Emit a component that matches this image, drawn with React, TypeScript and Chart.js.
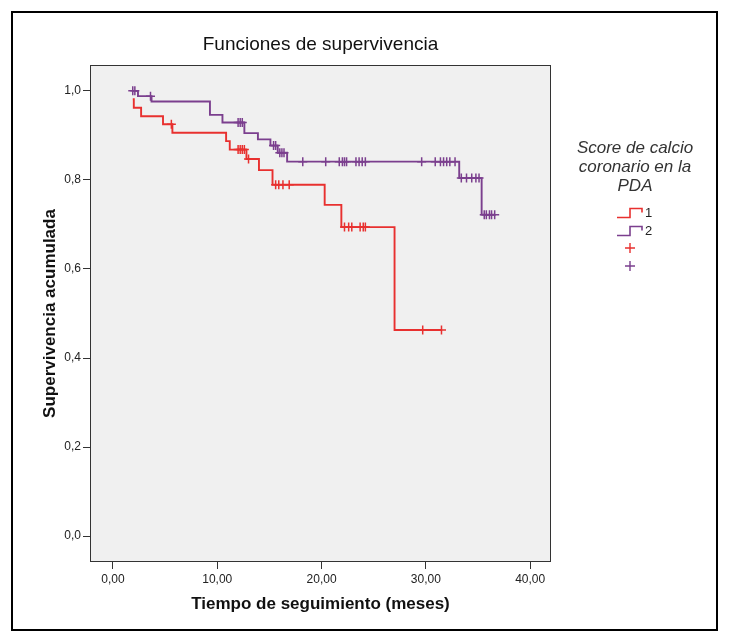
import { useEffect, useRef } from "react";
import { Chart, registerables } from "chart.js";

Chart.register(...registerables);

const chartTitle = "Funciones de supervivencia";
const xAxisTitle = "Tiempo de seguimiento (meses)";
const yAxisTitle = "Supervivencia acumulada";
const legendTitleLines = ["Score de calcio", "coronario en la", "PDA"];
const groupLabels = ["1", "2"];
const xTickValues = [0, 10, 20, 30, 40];
const yTickValues = [0, 0.2, 0.4, 0.6, 0.8, 1.0];

// Group 1 (red): event times and survival after each step
const group1Times = [1.9, 2.0, 2.7, 4.8, 5.7, 10.85, 11.2, 12.8, 14.0, 15.3, 20.3, 21.9, 27.0, 31.5];
const group1Survival = [0.981, 0.962, 0.943, 0.925, 0.906, 0.887, 0.868, 0.847, 0.822, 0.789, 0.744, 0.694, 0.463, 0.463];
const group1Censored = [5.6, 12.0, 12.2, 12.4, 12.6, 13.0, 15.6, 15.9, 16.3, 16.9, 22.2, 22.6, 22.9, 23.7, 24.0, 24.2, 29.7, 31.5];

// Group 2 (purple)
const group2Times = [1.9, 2.4, 3.7, 9.3, 10.5, 12.6, 13.9, 15.1, 15.8, 16.7, 33.2, 35.35, 36.6];
const group2Survival = [1.0, 0.988, 0.976, 0.946, 0.929, 0.905, 0.891, 0.877, 0.861, 0.841, 0.804, 0.722, 0.722];
const group2Censored = [1.9, 2.1, 3.6, 12.0, 12.2, 12.4, 15.4, 15.6, 16.0, 16.2, 16.4, 18.2, 20.4, 21.7, 22.0, 22.2, 22.4, 23.3, 23.6, 23.9, 24.2, 29.6, 30.9, 31.4, 31.7, 32.0, 32.3, 32.8, 33.4, 33.9, 34.4, 34.8, 35.1, 35.6, 35.8, 36.1, 36.3, 36.6];

const RED = "#e8302f";
const PURPLE = "#7b3f8e";
const FONT = "'Liberation Sans', Arial, sans-serif";

function survivalAt(times: number[], surv: number[], t: number) {
  let s = surv[0];
  for (let i = 0; i < times.length; i++) {
    if (times[i] <= t) s = surv[i];
  }
  return s;
}

const decorPlugin = {
  id: "decor",
  beforeDraw(chart: any) {
    const { ctx, chartArea: a, width, height } = chart;
    ctx.save();
    ctx.fillStyle = "#ffffff";
    ctx.fillRect(0, 0, width, height);
    ctx.fillStyle = "#f0f0f0";
    ctx.fillRect(a.left, a.top, a.right - a.left, a.bottom - a.top);
    ctx.restore();
  },
  afterDraw(chart: any) {
    const { ctx, chartArea: a } = chart;
    ctx.save();
    // plot box
    ctx.strokeStyle = "#333";
    ctx.lineWidth = 1;
    ctx.strokeRect(a.left + 0.5, a.top + 0.5, a.right - a.left - 1, a.bottom - a.top - 1);
    // outer frame
    ctx.strokeStyle = "#000";
    ctx.lineWidth = 2;
    ctx.strokeRect(4, 4, 705, 618);
    // title
    ctx.fillStyle = "#111";
    ctx.font = `19px ${FONT}`;
    ctx.textAlign = "center";
    ctx.textBaseline = "middle";
    ctx.fillText(chartTitle, (a.left + a.right) / 2, 37);
    // legend title
    ctx.fillStyle = "#333";
    ctx.font = `italic 17px ${FONT}`;
    legendTitleLines.forEach((line, i) => {
      ctx.fillText(line, 627, 140 + i * 19);
    });
    // legend step icons
    const colors = [RED, PURPLE];
    groupLabels.forEach((lab, i) => {
      const yc = 205 + i * 18;
      ctx.strokeStyle = colors[i];
      ctx.lineWidth = 1.6;
      ctx.beginPath();
      ctx.moveTo(609, yc + 4.5);
      ctx.lineTo(622, yc + 4.5);
      ctx.lineTo(622, yc - 4.5);
      ctx.lineTo(634, yc - 4.5);
      ctx.lineTo(634, yc - 0.5);
      ctx.stroke();
      ctx.fillStyle = "#222";
      ctx.font = `13px ${FONT}`;
      ctx.textAlign = "left";
      ctx.fillText(lab, 637, yc);
      ctx.textAlign = "center";
    });
    // legend censor crosses
    colors.forEach((c, i) => {
      const yc = 240 + i * 18;
      ctx.strokeStyle = c;
      ctx.lineWidth = 1.4;
      ctx.beginPath();
      ctx.moveTo(622, yc - 5);
      ctx.lineTo(622, yc + 5);
      ctx.moveTo(617, yc);
      ctx.lineTo(627, yc);
      ctx.stroke();
    });
    ctx.restore();
  },
};

export default function App() {
  const ref = useRef<HTMLCanvasElement | null>(null);
  useEffect(() => {
    if (!ref.current) return;
    const line1 = group1Times.map((t, i) => ({ x: t, y: group1Survival[i] }));
    const line2 = group2Times.map((t, i) => ({ x: t, y: group2Survival[i] }));
    const cens1 = group1Censored.map((t) => ({ x: t, y: survivalAt(group1Times, group1Survival, t) }));
    const cens2 = group2Censored.map((t) => ({ x: t, y: survivalAt(group2Times, group2Survival, t) }));
    const tickFont = { family: FONT, size: 12 };
    const chart = new Chart(ref.current, {
      type: "line",
      data: {
        datasets: [
          { label: groupLabels[0], data: line1, borderColor: RED, borderWidth: 1.9, stepped: true, pointRadius: 0, fill: false },
          { label: groupLabels[1], data: line2, borderColor: PURPLE, borderWidth: 1.9, stepped: true, pointRadius: 0, fill: false },
          { label: groupLabels[0] + " censurado", data: cens1, showLine: false, pointStyle: "cross", pointRadius: 4.5, borderColor: RED, backgroundColor: RED, borderWidth: 1.5 },
          { label: groupLabels[1] + " censurado", data: cens2, showLine: false, pointStyle: "cross", pointRadius: 4.5, borderColor: PURPLE, backgroundColor: PURPLE, borderWidth: 1.5 },
        ],
      },
      options: {
        animation: false,
        responsive: false,
        devicePixelRatio: 1,
        layout: { padding: { left: 0, right: 170, top: 57, bottom: 0 } },
        plugins: { legend: { display: false }, title: { display: false }, tooltip: { enabled: false } },
        scales: {
          x: {
            type: "linear",
            min: -2.2,
            max: 42,
            afterBuildTicks: (s: any) => {
              s.ticks = xTickValues.map((v) => ({ value: v }));
            },
            afterFit: (s: any) => {
              s.height = 69;
            },
            ticks: {
              callback: (v: any) => Number(v).toFixed(2).replace(".", ","),
              font: tickFont,
              color: "#222",
              padding: 3,
              maxRotation: 0,
              autoSkip: false,
            },
            grid: { drawOnChartArea: false, drawTicks: true, tickLength: 7, color: "#333", lineWidth: 1 },
            border: { display: false },
            title: { display: true, text: xAxisTitle, font: { family: FONT, size: 17, weight: "bold" }, color: "#111", padding: { top: 0, bottom: 16 } },
          },
          y: {
            type: "linear",
            min: -0.058,
            max: 1.058,
            afterBuildTicks: (s: any) => {
              s.ticks = yTickValues.map((v) => ({ value: v }));
            },
            afterFit: (s: any) => {
              s.width = 82;
            },
            ticks: {
              callback: (v: any) => Number(v).toFixed(1).replace(".", ","),
              font: tickFont,
              color: "#222",
              padding: 2,
              autoSkip: false,
            },
            grid: { drawOnChartArea: false, drawTicks: true, tickLength: 7, color: "#333", lineWidth: 1 },
            border: { display: false },
            title: { display: true, text: yAxisTitle, font: { family: FONT, size: 17, weight: "bold" }, color: "#111", padding: { top: 32, bottom: 0 } },
          },
        },
      },
      plugins: [decorPlugin],
    } as any);
    return () => chart.destroy();
  }, []);
  return (
    <div style={{ width: 713, height: 623 }}>
      <canvas ref={ref} width={713} height={623} style={{ display: "block" }} />
    </div>
  );
}
